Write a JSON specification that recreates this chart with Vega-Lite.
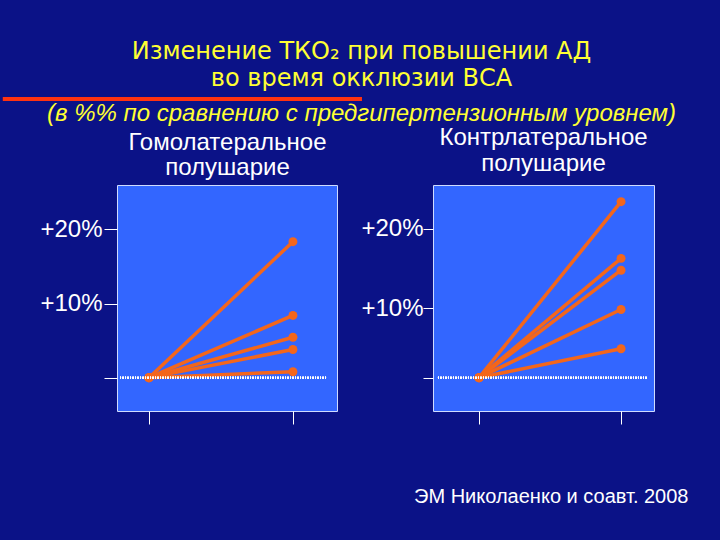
{
  "$schema": "https://vega.github.io/schema/vega-lite/v6.json",
  "background": "#0b1287",
  "padding": {"left": 0, "top": 39, "right": 36, "bottom": 34},
  "title": {
    "text": ["Изменение ТКО₂ при повышении АД", "во время окклюзии ВСА"],
    "subtitle": "(в %% по сравнению с предгипертензионным уровнем)",
    "anchor": "middle",
    "frame": "bounds",
    "dx": 17,
    "font": "DejaVu Sans",
    "fontSize": 24,
    "fontWeight": "normal",
    "lineHeight": 27,
    "color": "#ffff33",
    "subtitleFont": "Liberation Sans",
    "subtitleFontStyle": "italic",
    "subtitleFontSize": 24,
    "subtitleColor": "#ffff33",
    "subtitlePadding": 11,
    "offset": -29
  },
  "datasets": {
    "homo": [
      {"line": 1, "stage": 0, "value": 0}, {"line": 1, "stage": 1, "value": 18.35},
      {"line": 2, "stage": 0, "value": 0}, {"line": 2, "stage": 1, "value": 8.4},
      {"line": 3, "stage": 0, "value": 0}, {"line": 3, "stage": 1, "value": 5.45},
      {"line": 4, "stage": 0, "value": 0}, {"line": 4, "stage": 1, "value": 3.8},
      {"line": 5, "stage": 0, "value": 0}, {"line": 5, "stage": 1, "value": 0.8}
    ],
    "contra": [
      {"line": 1, "stage": 0, "value": 0}, {"line": 1, "stage": 1, "value": 23.75},
      {"line": 2, "stage": 0, "value": 0}, {"line": 2, "stage": 1, "value": 16.1},
      {"line": 3, "stage": 0, "value": 0}, {"line": 3, "stage": 1, "value": 14.5},
      {"line": 4, "stage": 0, "value": 0}, {"line": 4, "stage": 1, "value": 9.2},
      {"line": 5, "stage": 0, "value": 0}, {"line": 5, "stage": 1, "value": 3.9}
    ]
  },
  "config": {
    "view": {"fill": "#3366ff", "stroke": "#d0dcff", "strokeWidth": 1},
    "axis": {
      "domain": false,
      "grid": false,
      "tickColor": "#ffffff",
      "tickWidth": 1,
      "labelColor": "#ffffff",
      "labelFont": "Liberation Sans",
      "labelFontSize": 24,
      "titleColor": "#ffffff",
      "titleFont": "Liberation Sans",
      "titleFontWeight": "normal"
    },
    "title": {"color": "#ffffff", "font": "Liberation Sans", "fontWeight": "normal", "fontSize": 24, "lineHeight": 26}
  },
  "spacing": -4,
  "hconcat": [
    {
      "width": 220,
      "height": 226,
      "data": {"name": "homo"},
      "resolve": {"axis": {"x": "independent"}},
      "layer": [
        {
          "mark": {"type": "line", "color": "#f4661b", "strokeWidth": 3.5},
          "encoding": {
            "x": {"field": "stage", "type": "quantitative", "scale": {"domain": [-0.222, 1.306], "nice": false, "zero": false},
                  "axis": {"values": [0, 1], "labels": false, "tickSize": 13, "title": null}},
            "y": {"field": "value", "type": "quantitative", "scale": {"domain": [-4.5, 26], "nice": false, "zero": false},
                  "axis": {"values": [0, 10, 20], "tickSize": 13, "labelPadding": 2, "title": null,
                           "labelExpr": "datum.value == 0 ? '' : '+' + datum.value + '%'"}},
            "detail": {"field": "line"}
          }
        },
        {
          "mark": {"type": "point", "filled": true, "color": "#f4661b", "size": 80, "opacity": 1},
          "encoding": {
            "x": {"field": "stage", "type": "quantitative",
                  "axis": {"orient": "top", "ticks": false, "labels": false, "domain": false,
                           "title": ["Гомолатеральное", "полушарие"], "titleFontSize": 24, "titleLineHeight": 25, "titlePadding": 6}},
            "y": {"field": "value", "type": "quantitative"}
          }
        },
        {
          "mark": {"type": "rule", "color": "#ffffff", "strokeWidth": 2, "strokeDash": [1, 1.5], "opacity": 0.9},
          "encoding": {"y": {"datum": 0}, "x": {"datum": -0.201, "axis": null}, "x2": {"datum": 1.236}}
        },
        {
          "mark": {"type": "rule", "color": "#ff3311", "strokeWidth": 4, "clip": false},
          "encoding": {"y": {"datum": 37.6}, "x": {"datum": -1.014, "axis": null}, "x2": {"datum": 1.475}}
        }
      ]
    },
    {
      "width": 221,
      "height": 226,
      "title": {"text": ["Контрлатеральное", "полушарие"], "offset": 9},
      "data": {"name": "contra"},
      "layer": [
        {
          "mark": {"type": "line", "color": "#f4661b", "strokeWidth": 3.5},
          "encoding": {
            "x": {"field": "stage", "type": "quantitative", "scale": {"domain": [-0.324, 1.232], "nice": false, "zero": false},
                  "axis": {"values": [0, 1], "labels": false, "tickSize": 13, "title": "ЭМ Николаенко и соавт. 2008",
                           "titleFontSize": 20, "titleAlign": "right", "titleAnchor": null, "titleX": 255, "titleY": 91, "titleBaseline": "alphabetic"}},
            "y": {"field": "value", "type": "quantitative", "scale": {"domain": [-4.5, 26], "nice": false, "zero": false},
                  "axis": {"values": [0, 9.4, 20.1], "tickSize": 10, "labelPadding": 0, "title": null,
                           "labelExpr": "datum.value == 0 ? '' : (datum.value > 15 ? '+20%' : '+10%')"}},
            "detail": {"field": "line"}
          }
        },
        {
          "mark": {"type": "point", "filled": true, "color": "#f4661b", "size": 80, "opacity": 1},
          "encoding": {
            "x": {"field": "stage", "type": "quantitative"},
            "y": {"field": "value", "type": "quantitative"}
          }
        },
        {
          "mark": {"type": "rule", "color": "#ffffff", "strokeWidth": 2, "strokeDash": [1, 1.5], "opacity": 0.9},
          "encoding": {"y": {"datum": 0}, "x": {"datum": -0.289}, "x2": {"datum": 1.183}}
        }
      ]
    }
  ]
}
